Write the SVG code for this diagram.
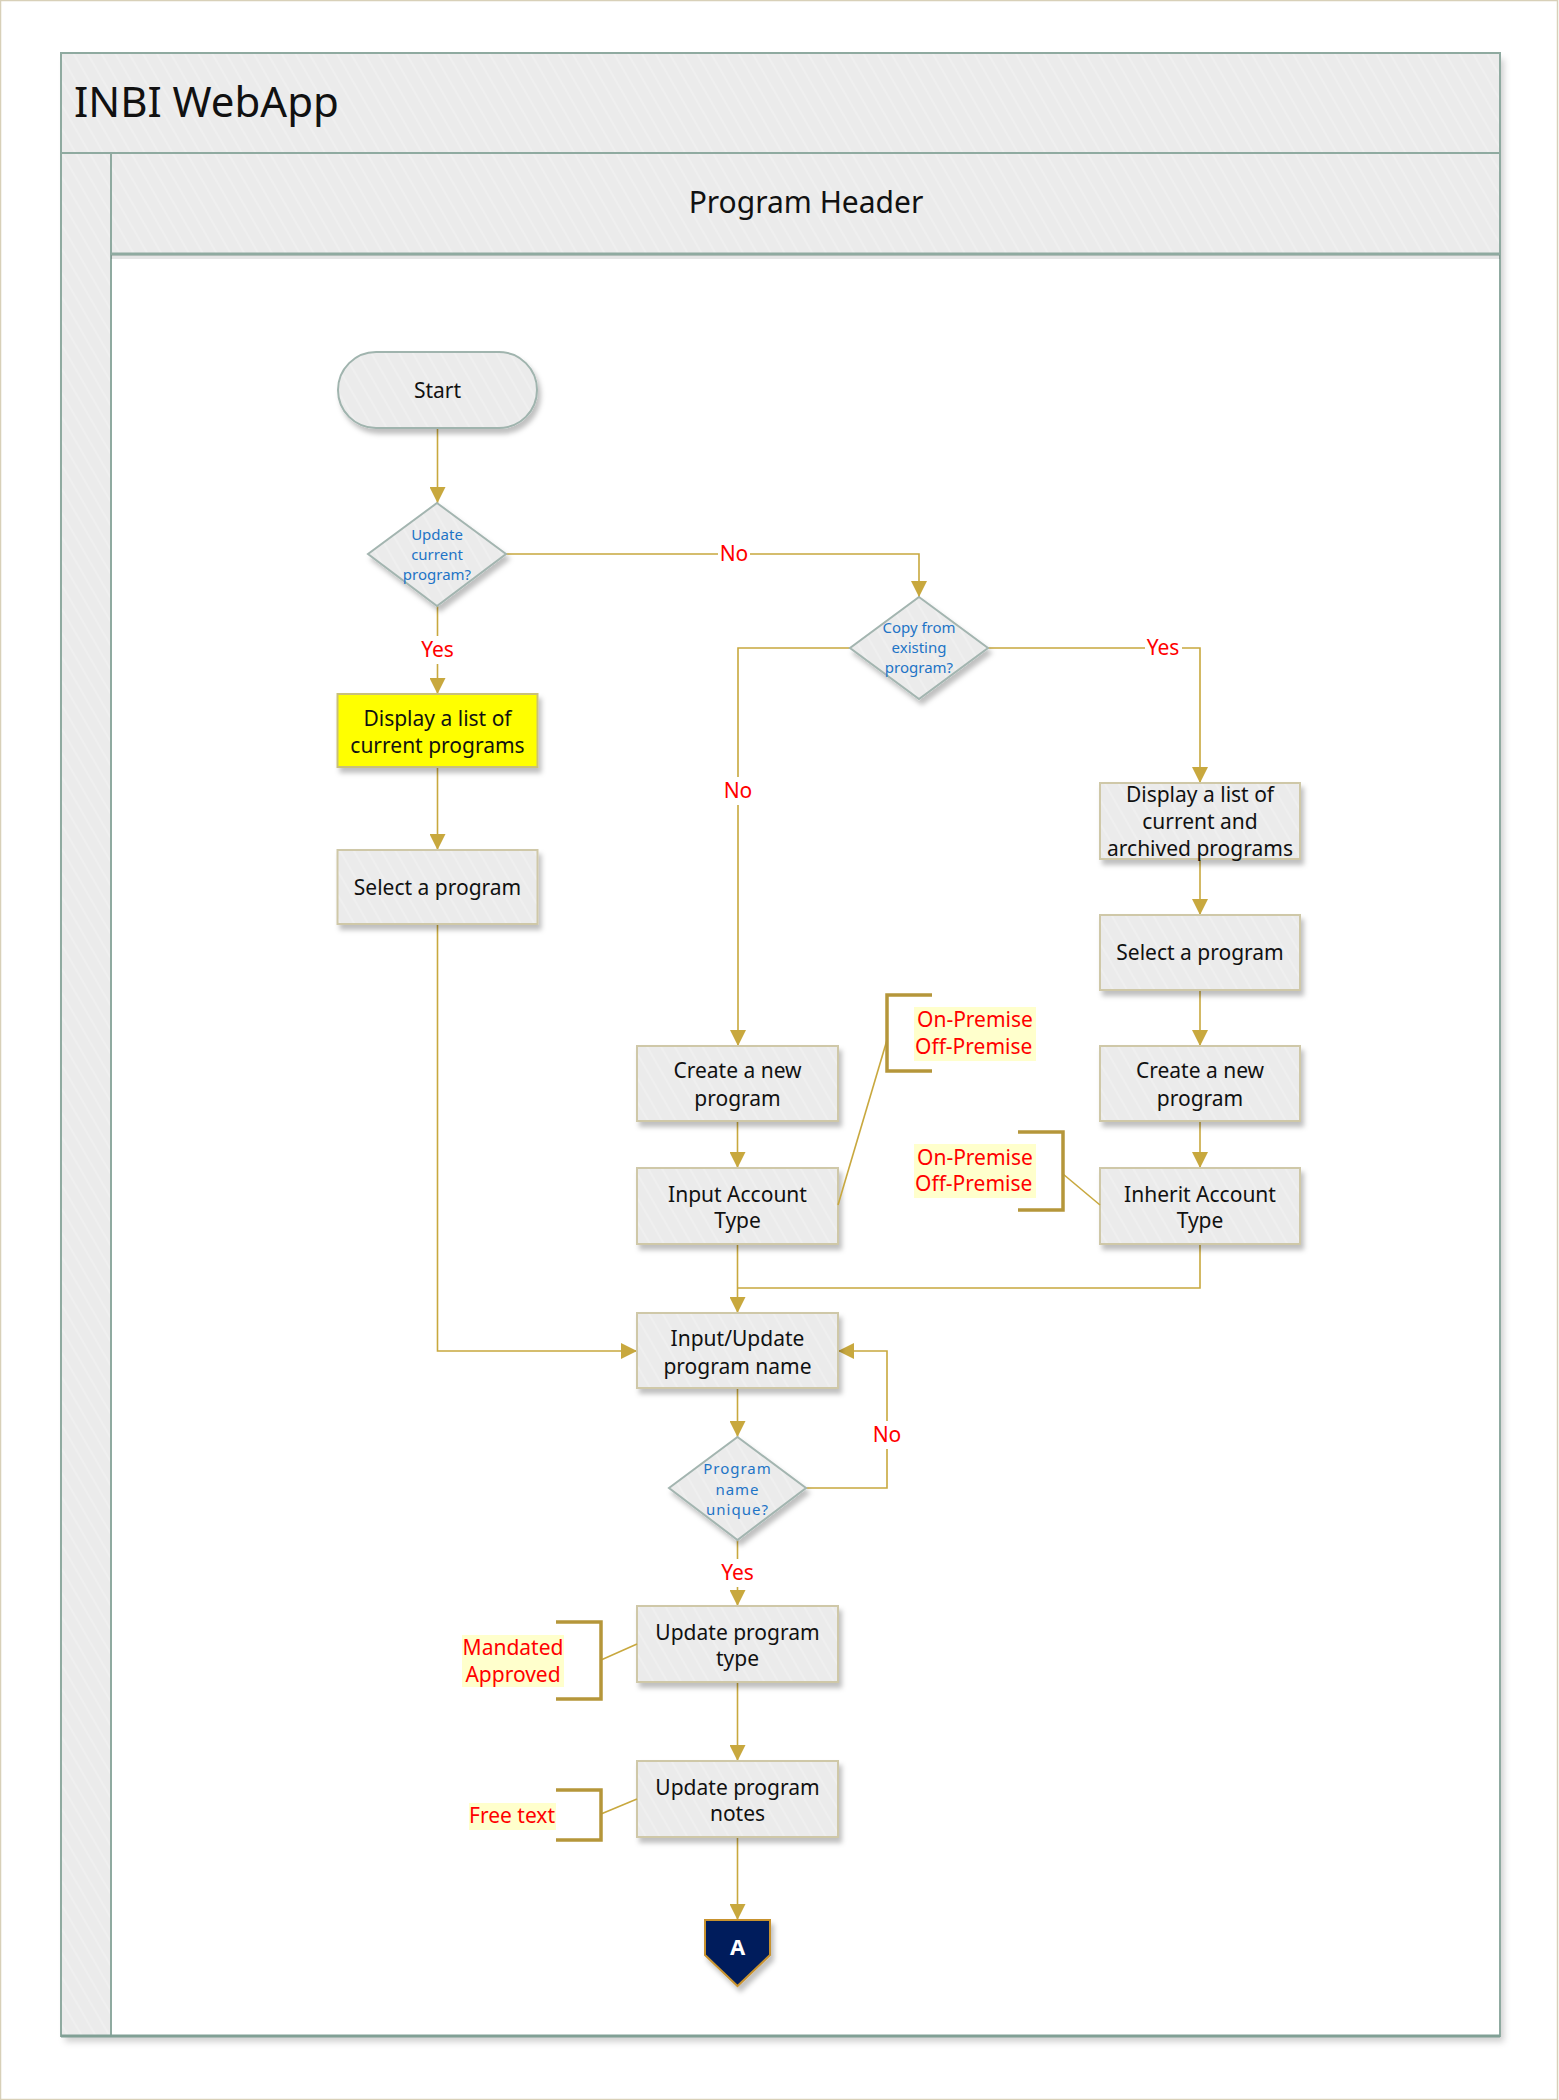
<svg xmlns="http://www.w3.org/2000/svg" width="1559" height="2100" viewBox="0 0 1559 2100">
<defs>
<pattern id="stripe" patternUnits="userSpaceOnUse" width="12" height="12" patternTransform="rotate(-30)">
<rect width="12" height="12" fill="#EBEBEB"/>
<line x1="1" y1="0" x2="1" y2="12" stroke="#F1F1F1" stroke-width="1.5"/>
</pattern>
<marker id="arr" markerUnits="userSpaceOnUse" markerWidth="16" markerHeight="16" refX="16" refY="8" orient="auto" viewBox="0 0 16 16">
<path d="M0,0 L16,8 L0,16 Z" fill="#C8A83E"/>
</marker>
<filter id="sh" x="-20%" y="-20%" width="150%" height="160%">
<feDropShadow dx="3" dy="5" stdDeviation="2.5" flood-color="#000" flood-opacity="0.25"/>
</filter>
<filter id="fsh" x="-5%" y="-5%" width="110%" height="110%">
<feDropShadow dx="4" dy="6" stdDeviation="3" flood-color="#000" flood-opacity="0.18"/>
</filter>
</defs>
<style>
.box{fill:url(#stripe);stroke:#CFC8A8;stroke-width:2;filter:url(#sh)}
.dia{fill:url(#stripe);stroke:#A3B5B0;stroke-width:2;filter:url(#sh)}
.t{font-family:"Noto Sans","Open Sans",sans-serif;font-size:21px;fill:#111;text-anchor:middle}
.dt{font-family:"Noto Sans","Open Sans",sans-serif;font-size:15px;fill:#1E74C6;text-anchor:middle}
.lbl{font-family:"Noto Sans","Open Sans",sans-serif;font-size:21px;fill:#FF0000;text-anchor:middle}
.ann{font-family:"Noto Sans","Open Sans",sans-serif;font-size:21px;fill:#FF0000}
.con{fill:none;stroke:#C8A83E;stroke-width:1.6}
.brk{fill:none;stroke:#B5963A;stroke-width:3.5}
.lane{stroke:#8FAAA0;stroke-width:2}
</style>
<rect x="0.5" y="0.5" width="1557" height="2099" fill="#FFFFFF" stroke="#D8D0B8" stroke-width="1.5"/>
<g id="pool">
<rect x="61" y="53" width="1439" height="1983" fill="#FFFFFF" filter="url(#fsh)"/>
<rect x="61" y="53" width="1439" height="100" fill="url(#stripe)" class="lane"/>
<rect x="61" y="153" width="50" height="1883" fill="url(#stripe)" class="lane"/>
<rect x="111" y="153" width="1389" height="101" fill="url(#stripe)" class="lane"/>
<rect x="111" y="254" width="1389" height="1782" fill="#FFFFFF" class="lane"/>
<line x1="111" y1="254" x2="1500" y2="254" stroke="#8FAAA0" stroke-width="3"/>
<line x1="111" y1="257" x2="1500" y2="257" stroke="#000" stroke-opacity="0.1" stroke-width="4"/>
<line x1="61" y1="2036" x2="1500" y2="2036" stroke="#80A095" stroke-width="3"/>
<text x="74" y="117" font-family="Noto Sans, Open Sans, sans-serif" font-size="42" fill="#111">INBI WebApp</text>
<text x="806" y="213" font-family="Noto Sans, Open Sans, sans-serif" font-size="30" fill="#111" text-anchor="middle">Program Header</text>
</g>
<g id="connectors">
<path class="con" d="M437.5,428 L437.5,503" marker-end="url(#arr)"/>
<path class="con" d="M506,554 L919,554 L919,597" marker-end="url(#arr)"/>
<path class="con" d="M437.5,606 L437.5,694" marker-end="url(#arr)"/>
<path class="con" d="M437.5,767 L437.5,850" marker-end="url(#arr)"/>
<path class="con" d="M437.5,924 L437.5,1351 L637,1351" marker-end="url(#arr)"/>
<path class="con" d="M850,648 L738,648 L738,1046" marker-end="url(#arr)"/>
<path class="con" d="M988,648 L1200,648 L1200,783" marker-end="url(#arr)"/>
<path class="con" d="M1200,859 L1200,915" marker-end="url(#arr)"/>
<path class="con" d="M1200,990 L1200,1046" marker-end="url(#arr)"/>
<path class="con" d="M1200,1121 L1200,1168" marker-end="url(#arr)"/>
<path class="con" d="M737.5,1121 L737.5,1168" marker-end="url(#arr)"/>
<path class="con" d="M737.5,1244 L737.5,1313" marker-end="url(#arr)"/>
<path class="con" d="M1200,1244 L1200,1288 L737.5,1288"/>
<path class="con" d="M737.5,1388 L737.5,1437" marker-end="url(#arr)"/>
<path class="con" d="M806,1488 L887,1488 L887,1351 L838,1351" marker-end="url(#arr)"/>
<path class="con" d="M737.5,1540 L737.5,1606" marker-end="url(#arr)"/>
<path class="con" d="M737.5,1682 L737.5,1761" marker-end="url(#arr)"/>
<path class="con" d="M737.5,1837 L737.5,1920" marker-end="url(#arr)"/>
<rect x="718" y="540" width="32" height="28" fill="#FFFFFF"/>
<text class="lbl" x="734" y="561">No</text>
<rect x="419" y="636" width="37" height="28" fill="#FFFFFF"/>
<text class="lbl" x="437.5" y="657">Yes</text>
<rect x="722" y="777" width="32" height="28" fill="#FFFFFF"/>
<text class="lbl" x="738" y="798">No</text>
<rect x="1145" y="634" width="37" height="28" fill="#FFFFFF"/>
<text class="lbl" x="1163" y="655">Yes</text>
<rect x="871" y="1421" width="32" height="28" fill="#FFFFFF"/>
<text class="lbl" x="887" y="1442">No</text>
<rect x="719" y="1559" width="37" height="28" fill="#FFFFFF"/>
<text class="lbl" x="737.5" y="1580">Yes</text>
</g>
<g id="start">
<rect x="338" y="352" width="199" height="76" rx="38" ry="38" fill="url(#stripe)" stroke="#A0B4AE" stroke-width="2" filter="url(#sh)"/>
<text class="t" x="437.5" y="398" font-size="22">Start</text>
</g>
<g id="d-update-current">
<polygon class="dia" points="437,503 506,554 437,606 368,554"/>
<text class="dt" x="437" y="540">Update</text>
<text class="dt" x="437" y="560">current</text>
<text class="dt" x="437" y="580">program?</text>
</g>
<g id="display-current">
<rect x="337.5" y="694" width="200" height="73" fill="#FFFF00" stroke="#C9C07A" stroke-width="2" filter="url(#sh)"/>
<text class="t" x="437.5" y="725.5">Display a list of</text>
<text class="t" x="437.5" y="752.5">current programs</text>
</g>
<g id="select-left">
<rect class="box" x="337.5" y="850" width="200" height="74"/>
<text class="t" x="437.5" y="894.5">Select a program</text>
</g>
<g id="d-copy">
<polygon class="dia" points="919,597 988,648 919,699 850,648"/>
<text class="dt" x="919" y="633">Copy from</text>
<text class="dt" x="919" y="653">existing</text>
<text class="dt" x="919" y="673">program?</text>
</g>
<g id="display-archived">
<rect class="box" x="1100" y="783" width="200" height="76"/>
<text class="t" x="1200" y="801.5">Display a list of</text>
<text class="t" x="1200" y="828.5">current and</text>
<text class="t" x="1200" y="855.5">archived programs</text>
</g>
<g id="select-right">
<rect class="box" x="1100" y="915" width="200" height="75"/>
<text class="t" x="1200" y="960">Select a program</text>
</g>
<g id="create-right">
<rect class="box" x="1100" y="1046" width="200" height="75"/>
<text class="t" x="1200" y="1077.5">Create a new</text>
<text class="t" x="1200" y="1105.5">program</text>
</g>
<g id="inherit-account">
<rect class="box" x="1100" y="1168" width="200" height="76"/>
<text class="t" x="1200" y="1201.5">Inherit Account</text>
<text class="t" x="1200" y="1227.5">Type</text>
</g>
<g id="create-left">
<rect class="box" x="637" y="1046" width="201" height="75"/>
<text class="t" x="737.5" y="1077.5">Create a new</text>
<text class="t" x="737.5" y="1105.5">program</text>
</g>
<g id="input-account">
<rect class="box" x="637" y="1168" width="201" height="76"/>
<text class="t" x="737.5" y="1201.5">Input Account</text>
<text class="t" x="737.5" y="1227.5">Type</text>
</g>
<g id="input-update-name">
<rect class="box" x="637" y="1313" width="201" height="75"/>
<text class="t" x="737.5" y="1345.5">Input/Update</text>
<text class="t" x="737.5" y="1373.5">program name</text>
</g>
<g id="d-unique">
<polygon class="dia" points="737.5,1437 806,1488 737.5,1540 669,1488"/>
<text class="dt" x="737.5" y="1474" font-size="14" letter-spacing="1">Program</text>
<text class="dt" x="737.5" y="1495" font-size="14" letter-spacing="1">name</text>
<text class="dt" x="737.5" y="1515" font-size="14" letter-spacing="1">unique?</text>
</g>
<g id="update-type">
<rect class="box" x="637" y="1606" width="201" height="76"/>
<text class="t" x="737.5" y="1639.5">Update program</text>
<text class="t" x="737.5" y="1665.5">type</text>
</g>
<g id="update-notes">
<rect class="box" x="637" y="1761" width="201" height="76"/>
<text class="t" x="737.5" y="1794.5">Update program</text>
<text class="t" x="737.5" y="1821">notes</text>
</g>
<g id="offpage-a">
<path d="M705,1920 L770,1920 L770,1955 L737.5,1986 L705,1955 Z" fill="#001F5B" stroke="#C8922F" stroke-width="2" filter="url(#sh)"/>
<text x="737.5" y="1955" font-family="Noto Sans, Open Sans, sans-serif" font-size="22" font-weight="bold" fill="#FFFFFF" text-anchor="middle">A</text>
</g>
<g id="ann-account-input">
<path class="con" d="M887,1040 L838,1205"/>
<path class="brk" d="M932,995 L887,995 L887,1071 L932,1071"/>
<rect x="914" y="1007" width="122" height="54" fill="#FFFFCC"/>
<text class="ann" x="917" y="1027">On-Premise</text>
<text class="ann" x="915" y="1054">Off-Premise</text>
</g>
<g id="ann-account-inherit">
<path class="con" d="M1063,1174 L1100,1205"/>
<path class="brk" d="M1018,1132 L1063,1132 L1063,1210 L1018,1210"/>
<rect x="914" y="1144" width="122" height="54" fill="#FFFFCC"/>
<text class="ann" x="917" y="1165">On-Premise</text>
<text class="ann" x="915" y="1191">Off-Premise</text>
</g>
<g id="ann-type">
<path class="con" d="M601,1660 L637,1644"/>
<path class="brk" d="M556,1622 L601,1622 L601,1699 L556,1699"/>
<rect x="462" y="1635" width="102" height="52" fill="#FFFFCC"/>
<text class="lbl" x="513" y="1655">Mandated</text>
<text class="lbl" x="513" y="1682">Approved</text>
</g>
<g id="ann-notes">
<path class="con" d="M601,1814 L637,1799"/>
<path class="brk" d="M556,1790 L601,1790 L601,1840 L556,1840"/>
<rect x="469" y="1803" width="87" height="27" fill="#FFFFCC"/>
<text class="lbl" x="512" y="1823">Free text</text>
</g>
</svg>
